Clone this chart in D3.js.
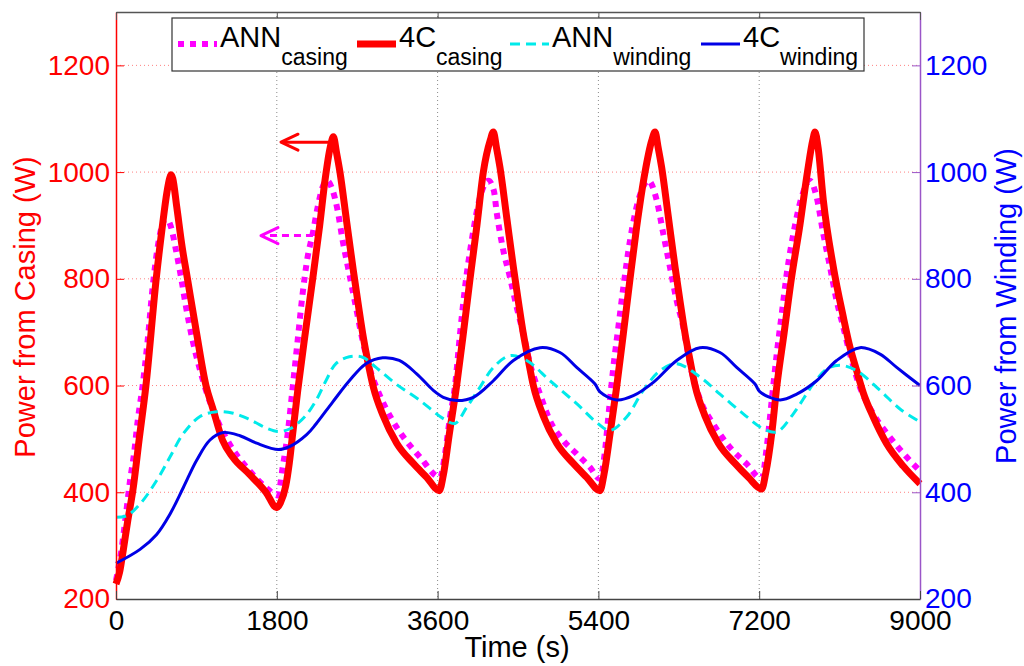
<!DOCTYPE html>
<html>
<head>
<meta charset="utf-8">
<script src="https://cdn.jsdelivr.net/npm/d3@7"></script>
<style>
  html, body { margin: 0; padding: 0; background: #fff; }
  svg { display: block; font-family: "Liberation Sans", Arial, Helvetica, sans-serif; }
</style>
</head>
<body>
<svg id="chart" width="1024" height="666"></svg>
<script>
// ---------------- DATA ----------------
const timeTicks = [0, 1800, 3600, 5400, 7200, 9000];
const leftTicks = [200, 400, 600, 800, 1000, 1200];
const rightTicks = [200, 400, 600, 800, 1000, 1200];

// ANN prediction of power from casing [time s, W]
const casingANN = [[0,235],[50,280],[112,359],[157,422],[200,470],[243,534],[298,600],[354,684],[410,784],[466,859],[522,903],[560,913],[616,897],[672,853],[728,803],[784,747],[858,684],[933,634],[1007,591],[1119,541],[1269,491],[1492,441],[1679,409],[1810,394],
[1866,447],[1921,509],[1978,597],[2033,684],[2089,772],[2145,841],[2201,884],[2257,934],[2313,972],[2358,984],[2425,966],[2481,928],[2537,872],[2612,809],[2686,747],[2761,684],[2836,634],[2947,584],[3097,534],[3246,497],[3403,466],[3627,428],
[3683,472],[3739,541],[3795,600],[3851,697],[3907,784],[3982,872],[4075,953],[4168,984],[4230,965],[4261,925],[4336,853],[4410,803],[4485,747],[4560,697],[4634,641],[4746,584],[4858,534],[5007,497],[5157,472],[5306,447],[5418,425],
[5474,478],[5511,541],[5567,634],[5623,709],[5679,784],[5754,872],[5847,947],[5959,984],[6053,947],[6127,884],[6201,822],[6276,759],[6351,709],[6425,640],[6537,574],[6686,528],[6873,484],[7060,453],[7228,425],
[7284,484],[7340,572],[7396,659],[7452,734],[7508,809],[7582,884],[7675,953],[7768,984],[7843,953],[7918,884],[7993,822],[8067,759],[8142,709],[8216,659],[8328,597],[8477,547],[8664,503],[8851,466],[9000,440]];

// 4C model power from casing [time s, W]
const casing4C = [[0,228],[40,250],[80,290],[130,345],[190,405],[260,500],[335,600],[450,800],[520,900],[570,962],[600,988],[616,995],[635,988],[680,935],[740,860],[800,800],[900,700],[1007,600],[1082,558],[1194,497],[1306,466],[1492,434],[1679,400],[1800,371],
[1840,380],[1900,412],[1940,455],[1978,510],[2034,590],[2120,700],[2202,800],[2280,900],[2340,985],[2400,1048],[2433,1066],
[2470,1035],[2507,1000],[2582,907],[2657,815],[2712,752],[2769,690],[2825,640],[2881,597],[2992,543],[3142,492],[3328,454],[3478,428],[3619,403],
[3664,432],[3730,508],[3813,600],[3890,700],[3963,800],[4040,900],[4112,1000],[4190,1060],[4224,1075],
[4260,1045],[4298,1009],[4373,916],[4448,822],[4503,759],[4560,697],[4616,647],[4672,600],[4783,543],[4933,492],[5119,454],[5269,428],[5418,403],
[5463,434],[5530,509],[5604,597],[5679,697],[5754,800],[5828,897],[5922,1000],[5997,1059],[6034,1075],
[6070,1045],[6108,1009],[6183,916],[6258,822],[6313,759],[6370,697],[6426,647],[6482,600],[6593,543],[6743,492],[6929,454],[7079,428],[7228,406],
[7273,436],[7340,510],[7396,597],[7480,700],[7560,800],[7655,900],[7740,1000],[7800,1060],[7825,1075],
[7860,1045],[7918,947],[8030,822],[8142,728],[8216,672],[8291,628],[8366,586],[8477,541],[8627,491],[8813,449],[9000,416]];

// ANN prediction of power from winding [time s, W]
const windingANN = [[0,353],[119,356],[269,378],[455,422],[604,466],[754,510],[940,542],[1127,551],[1313,548],[1500,536],[1687,520],[1817,514],[1948,519],[2110,541],[2239,572],[2350,609],[2462,641],[2612,654],[2761,653],[2910,634],[3134,603],[3403,572],[3664,538],[3795,529],[3925,559],[4075,597],[4224,634],[4410,656],[4597,647],[4858,609],[5157,566],[5380,531],[5530,516],[5716,541],[5903,591],[6090,628],[6276,641],[6537,616],[6761,584],[7022,547],[7246,519],[7396,513],[7582,547],[7806,603],[7955,631],[8104,638],[8291,628],[8552,591],[8776,556],[9000,532]];

// 4C model power from winding [time s, W]
const winding4C = [[0,267],[269,293],[455,321],[604,359],[754,409],[903,460],[1052,498],[1201,512],[1388,506],[1575,492],[1817,480],[1948,486],[2134,508],[2239,528],[2425,569],[2612,609],[2798,641],[2985,652],[3171,647],[3366,622],[3552,591],[3664,578],[3813,572],[4000,578],[4224,609],[4448,647],[4746,671],[4970,662],[5157,634],[5362,603],[5418,588],[5604,573],[5791,581],[6015,606],[6276,647],[6537,671],[6761,662],[6948,634],[7153,603],[7209,588],[7433,573],[7620,584],[7843,609],[8067,647],[8328,671],[8552,659],[8739,634],[9000,600]];

// arrow annotations: [fromTime, toTime, level W]
const arrow4C = [2430, 1847, 1056];
const arrowANN = [2205, 1623, 881];

const legendMain = ["ANN", "4C", "ANN", "4C"];
const legendSub = ["casing", "casing", "winding", "winding"];

// ---------------- CHART ----------------
const svg = d3.select("#chart");
const L = 116, R = 920, T = 12, B = 599;
const x = d3.scaleLinear().domain([0, 9000]).range([L, R]);
const yL = d3.scaleLinear().domain([200, 1300]).range([B, T]);
const yR = d3.scaleLinear().domain([200, 1300]).range([B, T]);
const fmt = d3.format("d");

// grid
const grid = svg.append("g");
grid.selectAll("line.h").data(leftTicks.slice(1)).join("line")
  .attr("x1", L).attr("x2", R).attr("y1", d => yL(d)).attr("y2", d => yL(d))
  .attr("stroke", "#ff8080").attr("stroke-width", 1).attr("stroke-dasharray", "1,3");
grid.selectAll("line.v").data(timeTicks.slice(1, -1)).join("line")
  .attr("y1", T).attr("y2", B).attr("x1", d => x(d)).attr("x2", d => x(d))
  .attr("stroke", "#8a8a8a").attr("stroke-width", 1).attr("stroke-dasharray", "1,3");

// lines
const lineL = d3.line().x(d => x(d[0])).y(d => yL(d[1])).curve(d3.curveMonotoneX);
const lineR = d3.line().x(d => x(d[0])).y(d => yR(d[1])).curve(d3.curveCatmullRom.alpha(0.5));

const series = [
  { data: casingANN, gen: lineL, color: "#ff00ff", width: 6, dash: "6,6" },
  { data: casing4C, gen: lineL, color: "#ff0000", width: 7, dash: null },
  { data: windingANN, gen: lineR, color: "#00eaea", width: 3, dash: "10,6" },
  { data: winding4C, gen: lineR, color: "#0000e6", width: 3, dash: null }
];
const plot = svg.append("g");
series.forEach(s => {
  plot.append("path").attr("d", s.gen(s.data))
    .attr("fill", "none").attr("stroke", s.color).attr("stroke-width", s.width)
    .attr("stroke-linejoin", "round")
    .attr("stroke-dasharray", s.dash);
});

// arrows
function drawArrow(a, color, dash) {
  const g = svg.append("g").attr("stroke", color).attr("stroke-width", 3).attr("fill", "none");
  const y0 = yL(a[2]), x0 = x(a[0]), x1 = x(a[1]);
  g.append("line").attr("x1", x0).attr("x2", x1 + 2).attr("y1", y0).attr("y2", y0)
    .attr("stroke-dasharray", dash);
  g.append("polyline").attr("points", `${x1 + 17},${y0 - 8} ${x1},${y0} ${x1 + 17},${y0 + 8}`)
    .attr("stroke-linejoin", "round").attr("stroke-linecap", "round");
}
drawArrow(arrow4C, "#ff0000", null);
drawArrow(arrowANN, "#ff00ff", "7,5");

// axes
const fs = "28px";
const axL = svg.append("g").attr("transform", `translate(${L},0)`)
  .call(d3.axisLeft(yL).tickValues(leftTicks).tickFormat(fmt).tickSize(-8).tickSizeOuter(0).tickPadding(6));
axL.select(".domain").attr("stroke", "#ff0000").attr("stroke-width", 1.5);
axL.selectAll(".tick line").attr("stroke", "#ff0000");
axL.selectAll(".tick text").attr("fill", "#ff0000").style("font-size", fs);

const axR = svg.append("g").attr("transform", `translate(${R},0)`)
  .call(d3.axisRight(yR).tickValues(rightTicks).tickFormat(fmt).tickSize(-8).tickSizeOuter(0).tickPadding(5));
axR.select(".domain").attr("stroke", "#9a55c8").attr("stroke-width", 1.5);
axR.selectAll(".tick line").attr("stroke", "#9a55c8");
axR.selectAll(".tick text").attr("fill", "#0000ff").style("font-size", fs);

const axB = svg.append("g").attr("transform", `translate(0,${B})`)
  .call(d3.axisBottom(x).tickValues(timeTicks).tickFormat(fmt).tickSize(-8).tickSizeOuter(0).tickPadding(11));
axB.select(".domain").attr("stroke", "#444").attr("stroke-width", 1.5);
axB.selectAll(".tick line").attr("stroke", "#444");
axB.selectAll(".tick text").attr("fill", "#000").style("font-size", fs);

const axT = svg.append("g").attr("transform", `translate(0,${T})`)
  .call(d3.axisTop(x).tickValues(timeTicks).tickSize(-8).tickSizeOuter(0).tickFormat(""));
axT.select(".domain").attr("stroke", "#555").attr("stroke-width", 1.5);
axT.selectAll(".tick line").attr("stroke", "#555");

// axis labels
svg.append("text").attr("transform", "translate(35,307) rotate(-90)")
  .attr("text-anchor", "middle").attr("fill", "#ff0000").style("font-size", "29px")
  .text("Power from Casing (W)");
svg.append("text").attr("transform", "translate(1016,306) rotate(-90)")
  .attr("text-anchor", "middle").attr("fill", "#0000ff").style("font-size", "29px")
  .text("Power from Winding (W)");
svg.append("text").attr("x", 517).attr("y", 657)
  .attr("text-anchor", "middle").attr("fill", "#000").style("font-size", "29px")
  .text("Time (s)");

// legend
const lg = svg.append("g");
lg.append("rect").attr("x", 172).attr("y", 18).attr("width", 692).attr("height", 53)
  .attr("fill", "#fff").attr("stroke", "#333").attr("stroke-width", 1.2);
const sampleX = [178, 357, 510, 701];
const sampleW = 39;
series.forEach((s, i) => {
  lg.append("line").attr("x1", sampleX[i]).attr("x2", sampleX[i] + sampleW)
    .attr("y1", 44).attr("y2", 44)
    .attr("stroke", s.color).attr("stroke-width", s.width)
    .attr("stroke-dasharray", s.dash);
  const t = lg.append("text").attr("x", sampleX[i] + sampleW + 3).attr("y", 47)
    .attr("fill", "#000").style("font-size", "29px");
  t.append("tspan").text(legendMain[i]);
  t.append("tspan").attr("dy", 18).style("font-size", "23px").text(legendSub[i]);
});
</script>
</body>
</html>
